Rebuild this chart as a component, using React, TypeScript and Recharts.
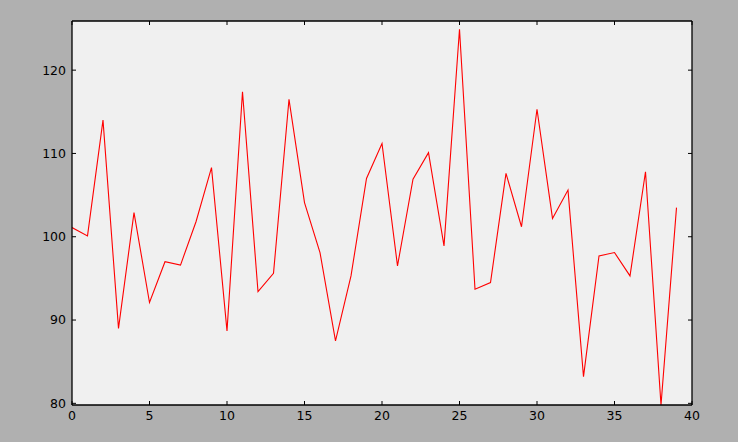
import React from 'react';
import { LineChart, Line, XAxis, YAxis } from 'recharts';

const xValues = [
  0, 1, 2, 3, 4, 5, 6, 7, 8, 9,
  10, 11, 12, 13, 14, 15, 16, 17, 18, 19,
  20, 21, 22, 23, 24, 25, 26, 27, 28, 29,
  30, 31, 32, 33, 34, 35, 36, 37, 38, 39,
];
const yValues = [
  101.1, 100.1, 114.0, 89.0, 102.9, 92.1, 97.0, 96.6, 101.8, 108.3,
  88.7, 117.4, 93.4, 95.6, 116.5, 104.1, 98.1, 87.5, 95.3, 107.0,
  111.2, 96.5, 106.9, 110.1, 98.9, 124.9, 93.7, 94.5, 107.6, 101.2,
  115.3, 102.2, 105.6, 83.2, 97.7, 98.1, 95.3, 107.8, 79.8, 103.5,
];
const xTicks = [0, 5, 10, 15, 20, 25, 30, 35, 40];
const yTicks = [80, 90, 100, 110, 120];
const xDomain = [0, 40];
const yDomain = [79.8, 125.9];

const data = xValues.map((x, i) => ({ x, y: yValues[i] }));

const FONT = '"DejaVu Sans", sans-serif';
const tickStyle = { fill: '#000', fontSize: 12.5, fontFamily: FONT };
const Empty = () => <g />;

export default function App() {
  return (
    <div style={{ position: 'absolute', left: 0, top: 0, width: 738, height: 442, background: '#b0b0b0' }}>
      <LineChart
        width={738}
        height={442}
        data={data}
        margin={{ top: 0, right: 0, bottom: 0, left: 0 }}
      >
        <rect x={72} y={21} width={620} height={384} fill="#f0f0f0" />
        <XAxis
          xAxisId="b"
          dataKey="x"
          type="number"
          domain={xDomain}
          ticks={xTicks}
          height={37}
          orientation="bottom"
          tickSize={-4}
          tickMargin={10}
          tick={tickStyle}
          axisLine={{ stroke: '#000', strokeWidth: 1.3 }}
          tickLine={{ stroke: '#000' }}
          allowDataOverflow
        />
        <XAxis
          xAxisId="t"
          dataKey="x"
          type="number"
          domain={xDomain}
          ticks={xTicks}
          height={21}
          orientation="top"
          tickSize={-4}
          tick={Empty}
          axisLine={{ stroke: '#000', strokeWidth: 1.3 }}
          tickLine={{ stroke: '#000' }}
          allowDataOverflow
        />
        <YAxis
          yAxisId="l"
          type="number"
          domain={yDomain}
          ticks={yTicks}
          width={72}
          orientation="left"
          tickSize={-4}
          tickMargin={10}
          tick={tickStyle}
          axisLine={{ stroke: '#000', strokeWidth: 1.3 }}
          tickLine={{ stroke: '#000' }}
          allowDataOverflow
        />
        <YAxis
          yAxisId="r"
          type="number"
          domain={yDomain}
          ticks={yTicks}
          width={46}
          orientation="right"
          tickSize={-4}
          tick={Empty}
          axisLine={{ stroke: '#000', strokeWidth: 1.3 }}
          tickLine={{ stroke: '#000' }}
          allowDataOverflow
        />
        <Line
          xAxisId="b"
          yAxisId="l"
          dataKey="y"
          type="linear"
          stroke="#ff0000"
          strokeWidth={1.1}
          dot={false}
          activeDot={false}
          isAnimationActive={false}
        />
      </LineChart>
    </div>
  );
}
